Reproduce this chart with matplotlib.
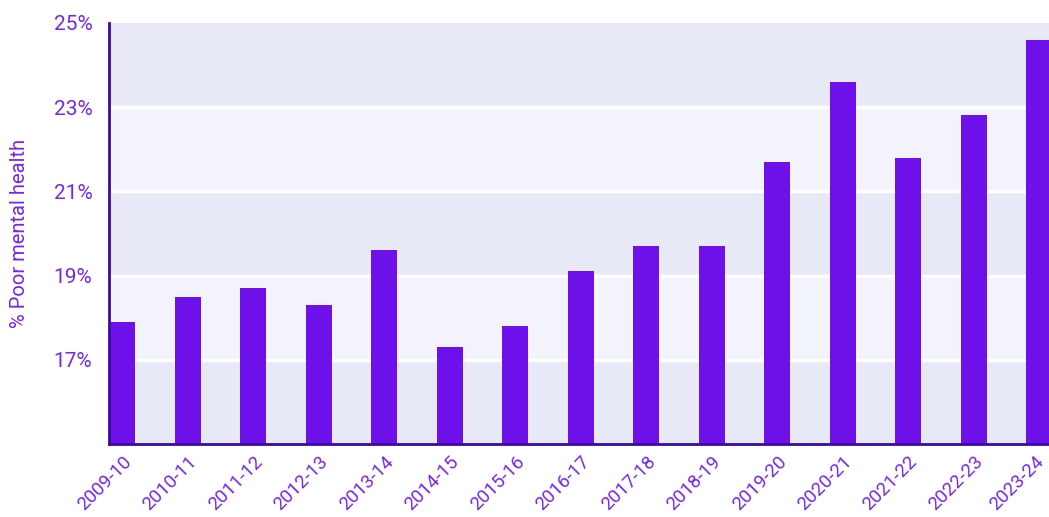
import matplotlib.pyplot as plt
import matplotlib.transforms as mtransforms
import numpy as np

# survey years and share reporting poor mental health (%)
years = ['2009-10', '2010-11', '2011-12', '2012-13', '2013-14', '2014-15',
         '2015-16', '2016-17', '2017-18', '2018-19', '2019-20', '2020-21',
         '2021-22', '2022-23', '2023-24']
poor_mh = [17.9, 18.5, 18.7, 18.3, 19.6, 17.3, 17.8, 19.1, 19.7, 19.7,
           21.7, 23.6, 21.8, 22.8, 24.6]
y_ticks = [17, 19, 21, 23, 25]

bar_col = '#6e10ea'
text_col = '#7426f0'
axis_col = '#3b0a9e'
band_dark = '#e8e9f7'
band_light = '#f3f3fc'

plt.rcParams['font.family'] = ['Roboto', 'DejaVu Sans']

fig = plt.figure(figsize=(10.49, 5.17), dpi=100)
ax = fig.add_axes([0.104, 0.141, 0.896, 0.815])

# alternating background bands
edges = [15, 17, 19, 21, 23, 25]
for i in range(len(edges) - 1):
    ax.axhspan(edges[i], edges[i + 1], color=band_dark if i % 2 == 0 else band_light,
               zorder=0, lw=0)
for t in y_ticks[:-1]:
    ax.axhline(t, color='white', lw=2.5, zorder=1)

x = np.arange(len(years))
ax.bar(x, [v - 15 for v in poor_mh], bottom=15, width=0.4, color=bar_col, zorder=2)

ax.set_ylim(15, 25)
ax.set_xlim(-0.2, 14.15)
ax.set_yticks(y_ticks)
ax.set_yticklabels([f'{t}%' for t in y_ticks], fontsize=15, color=text_col)
ax.set_xticks(x)
ax.set_xticklabels(years, rotation=45, ha='right', rotation_mode='anchor',
                   fontsize=13.5, color=text_col)
ax.tick_params(axis='y', length=0, pad=12)
ax.tick_params(axis='x', length=0, pad=6)
ax.set_ylabel('% Poor mental health', fontsize=14.5, color=text_col, labelpad=18)

# keep the last label inside the canvas
last = ax.get_xticklabels()[-1]
last.set_transform(last.get_transform() +
                   mtransforms.ScaledTranslation(-4 / 100, 0, fig.dpi_scale_trans))

for s in ['top', 'right']:
    ax.spines[s].set_visible(False)
for s in ['left', 'bottom']:
    ax.spines[s].set_color(axis_col)
    ax.spines[s].set_linewidth(2)
    ax.spines[s].set_zorder(3)

fig.savefig('out.png', dpi=100)
